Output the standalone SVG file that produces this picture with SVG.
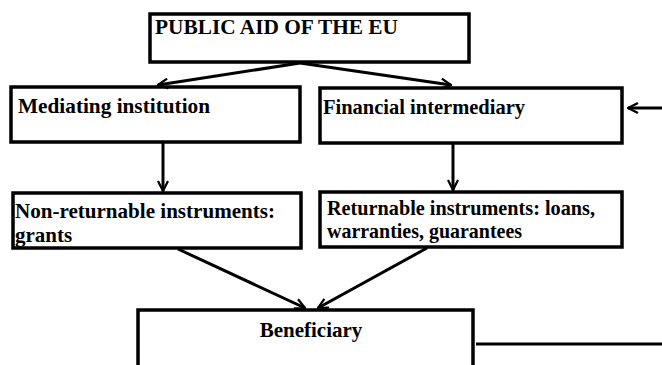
<svg xmlns="http://www.w3.org/2000/svg" width="662" height="365" viewBox="0 0 662 365">
<style>
.box{fill:#fff;stroke:#000;stroke-width:3.5}
.t{font-family:"Liberation Serif","Times New Roman",serif;font-weight:bold;font-size:21px;fill:#000}
.c{fill:none;stroke:#000;stroke-width:3}
</style>
<defs>
<marker id="ah" viewBox="0 0 12 12" refX="11" refY="6" markerWidth="12" markerHeight="12" markerUnits="userSpaceOnUse" orient="auto">
<path d="M1,1 L11,6 L1,11" fill="none" stroke="#000" stroke-width="2.2"/>
</marker>
</defs>
<rect width="662" height="365" fill="#fff"/>
<g id="n-public">
<rect class="box" x="150" y="14" width="319" height="48"/>
<text class="t" x="155" y="34" textLength="243" lengthAdjust="spacingAndGlyphs">PUBLIC AID OF THE EU</text>
</g>
<g id="n-mediating">
<rect class="box" x="11" y="87" width="289" height="55"/>
<text class="t" x="18" y="113" textLength="192" lengthAdjust="spacingAndGlyphs">Mediating institution</text>
</g>
<g id="n-financial">
<rect class="box" x="320" y="88" width="302" height="55"/>
<text class="t" x="323" y="114" textLength="202" lengthAdjust="spacingAndGlyphs">Financial intermediary</text>
</g>
<g id="n-nonret">
<rect class="box" x="13" y="193" width="288" height="55"/>
<text class="t" x="15" y="218" textLength="260" lengthAdjust="spacingAndGlyphs">Non-returnable instruments:</text>
<text class="t" x="15" y="242">grants</text>
</g>
<g id="n-ret">
<rect class="box" x="320" y="192" width="302" height="55"/>
<text class="t" x="327" y="215" textLength="268" lengthAdjust="spacingAndGlyphs">Returnable instruments: loans,</text>
<text class="t" x="327" y="238" textLength="195" lengthAdjust="spacingAndGlyphs">warranties, guarantees</text>
</g>
<g id="n-benef">
<rect class="box" x="138" y="310" width="335" height="70"/>
<text class="t" x="311" y="337" text-anchor="middle">Beneficiary</text>
</g>
<g id="connectors">
<line class="c" x1="300" y1="63" x2="158" y2="85" marker-end="url(#ah)"/>
<line class="c" x1="300" y1="63" x2="451" y2="85" marker-end="url(#ah)"/>
<line class="c" x1="163" y1="142" x2="163" y2="191" marker-end="url(#ah)"/>
<line class="c" x1="453" y1="143" x2="453" y2="190" marker-end="url(#ah)"/>
<line class="c" x1="178" y1="249" x2="305" y2="308" marker-end="url(#ah)"/>
<line class="c" x1="427" y1="248" x2="318" y2="308" marker-end="url(#ah)"/>
<line class="c" x1="662" y1="108" x2="628" y2="108" marker-end="url(#ah)"/>
<line class="c" x1="476" y1="344" x2="662" y2="344"/>
</g>
</svg>
